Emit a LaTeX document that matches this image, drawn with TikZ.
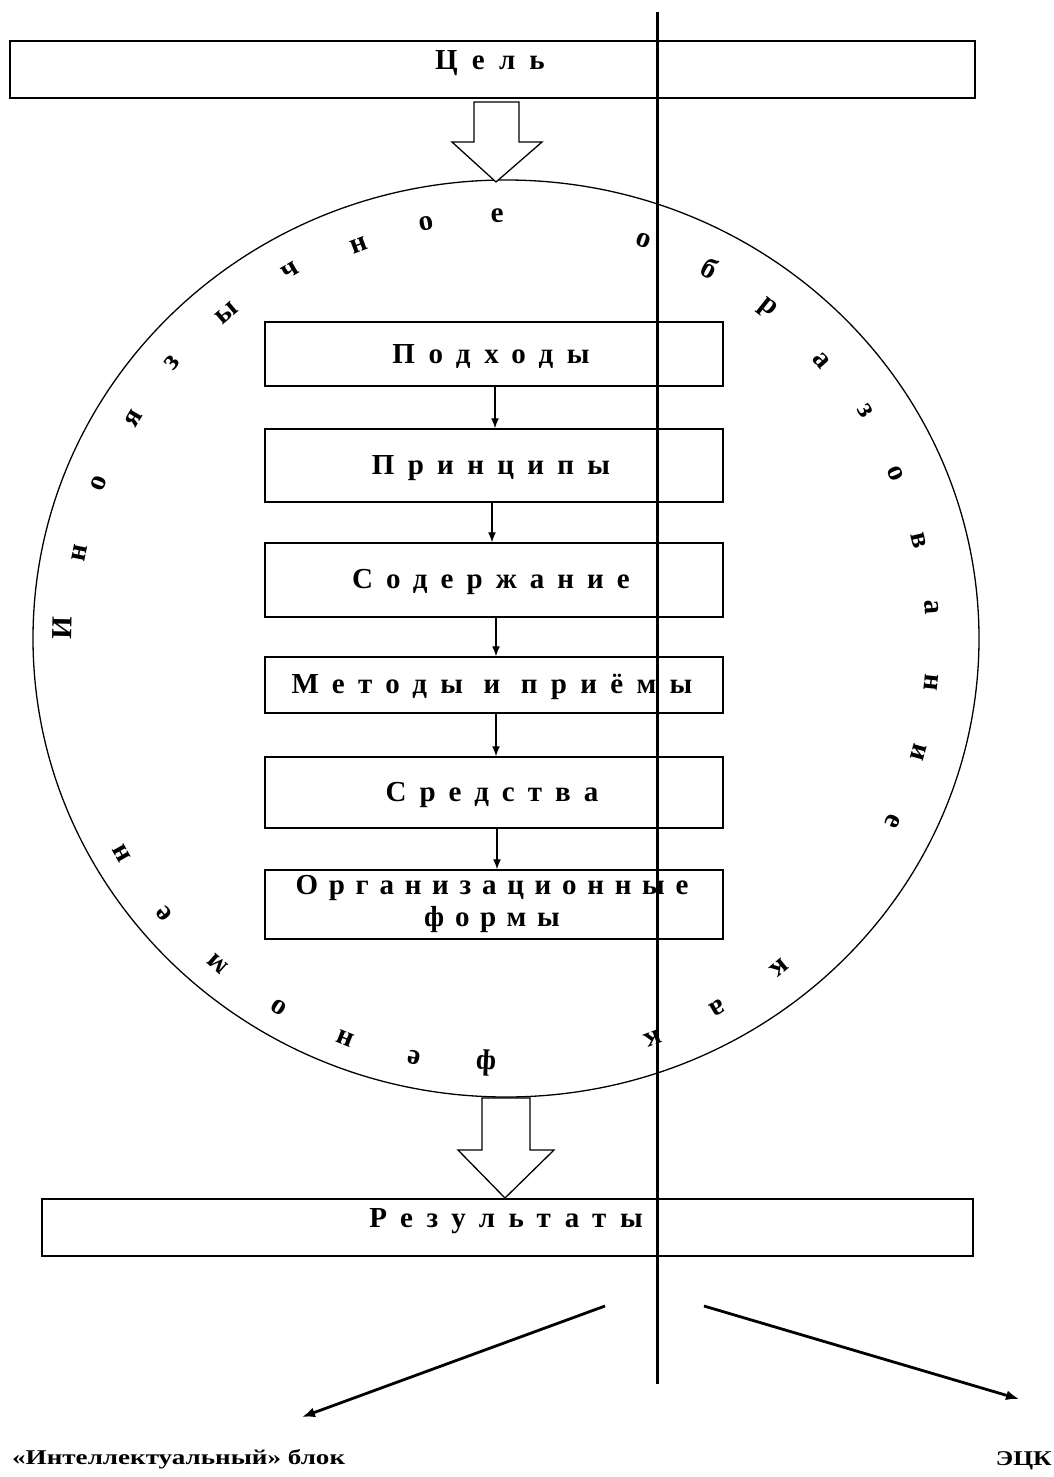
\documentclass[tikz,border=0pt]{standalone}
\usepackage{fontspec}
\setmainfont{Liberation Serif}
\usetikzlibrary{arrows.meta,shapes.geometric}
\tikzset{
  frame/.style={draw, line width=1.5pt, inner sep=0pt},
  inbox/.style={frame, minimum width=458pt},
  btxt/.style={inner sep=0pt, align=center, font=\bfseries\fontsize{29}{32}\selectfont\addfontfeatures{LetterSpace=#1}},
  btxt/.default=46,
  ringltr/.style={inner sep=0pt, font=\bfseries\fontsize{29}{29}\selectfont},
  flow/.style={line width=1.3pt, -{Latex[length=10pt,width=8pt]}},
  fat/.style={line width=2.8pt, -{Latex[length=13pt,width=10pt]}},
  hollow/.style={draw, line width=1.3pt, fill=white, line join=miter},
  lbl/.style={inner sep=0pt, font=\bfseries\fontsize{21}{21}\selectfont}
}
\begin{document}
\begin{tikzpicture}[x=1pt,y=-1pt]
\useasboundingbox (0,0) rectangle (1054,1477);
% goal
\node[frame, minimum width=965pt, minimum height=57pt] (goal) at (492.5,69.5) {};
\node[btxt=49] (goalt) at (490,63) {Цель};
% ring
\node[draw, ellipse, line width=1.3pt, minimum width=946pt, minimum height=917pt, inner sep=0pt] (ring) at (506,638.5) {};
% hollow arrow top
\draw[hollow] (474,102) -- (519,102) -- (519,142) -- (542,142) -- (496,182) -- (452,142) -- (474,142) -- cycle;
% inner boxes
\node[inbox, minimum height=64pt] (b1) at (494,354) {};
\node[btxt=47] (b1t) at (491,357) {Подходы};
\node[inbox, minimum height=73pt] (b2) at (494,465.5) {};
\node[btxt=46] (b2t) at (491,468) {Принципы};
\node[inbox, minimum height=74pt] (b3) at (494,580) {};
\node[btxt=45] (b3t) at (491,582) {Содержание};
\node[inbox, minimum height=56pt] (b4) at (494,685) {};
\node[btxt=46] (b4t) at (492,687) {Методы и приёмы};
\node[inbox, minimum height=71pt] (b5) at (494,792.5) {};
\node[btxt=45] (b5t) at (492,795) {Средства};
\node[inbox, minimum height=69pt] (b6) at (494,904.5) {};
\node[btxt=37] (b6t) at (492,904) {Организационные\\формы};
\draw[flow] ([xshift=1pt]b1.south) -- ([xshift=1pt]b2.north);
\draw[flow] ([xshift=-2pt]b2.south) -- ([xshift=-2pt]b3.north);
\draw[flow] ([xshift=2pt]b3.south) -- ([xshift=2pt]b4.north);
\draw[flow] ([xshift=2pt]b4.south) -- ([xshift=2pt]b5.north);
\draw[flow] ([xshift=3pt]b5.south) -- ([xshift=3pt]b6.north);
% ring text
\begin{scope}[shift={(506,638.5)}, y=1pt]
\foreach \a/\r/\l [count=\i] in {
 178.7/444/И, 168.7/435/н, 159.2/436/о, 149.4/432/я, 140.5/433/з, 130.7/429/ы,
 120.4/427/ч, 110.5/420/н, 100.9/423/о, 91.2/423/е,
 70.9/421/о, 61.2/423/б, 51.7/421/р, 41.4/420/а, 32.4/425/з, 22.9/423/о,
 13.3/424/в, 4.2/427/а, -5.9/428/н, -15.4/428/и, -25.2/428/е,
 -50.4/428/к, -60.2/426/а, -69.8/426/к,
 -92.7/425/ф, -102.4/429/е, -111.9/431/н, -121.6/433/о, -131.6/435/м, -141.2/439/е, -150.8/440/н}
 \node[ringltr, rotate={\a-90}] (L\i) at (\a:\r) {\l};
\end{scope}
% bottom hollow arrow
\draw[hollow] (482,1098) -- (530,1098) -- (530,1150) -- (554,1150) -- (505,1198) -- (458,1150) -- (482,1150) -- cycle;
% results
\node[frame, minimum width=931pt, minimum height=57pt] (res) at (507.5,1227.5) {};
\node[btxt=47] (rest) at (506,1221) {Результаты};
% labels
\node[lbl, anchor=base west] (lab1) at (12,1464) {\scalebox{1.29}[1]{«Интеллектуальный» блок}};
\node[lbl, anchor=base east] (lab2) at (1052,1465) {\scalebox{1.22}[1]{ЭЦК}};
\coordinate (d1s) at (605,1306);
\coordinate (d1e) at (302,1417);
\coordinate (d2s) at (704,1306);
\coordinate (d2e) at (1019,1399);
\draw[fat] (d1s) -- (d1e);
\draw[fat] (d2s) -- (d2e);
% vertical line
\coordinate (vtop) at (657,12);
\coordinate (vbot) at (657,1384);
\draw[line width=3pt] (vtop) -- (vbot);
\end{tikzpicture}
\end{document}
